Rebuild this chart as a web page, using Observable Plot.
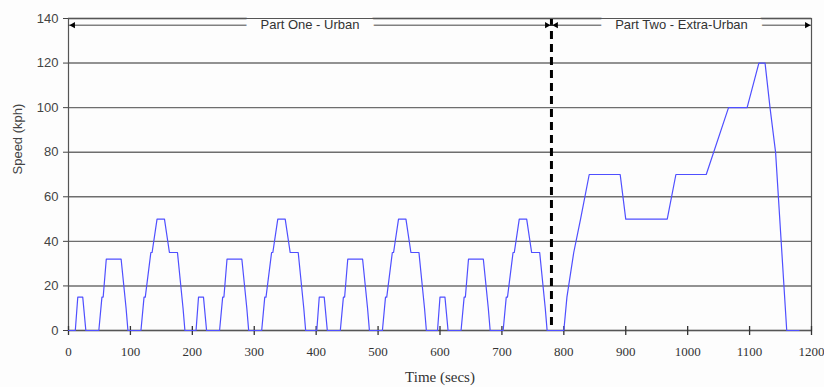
<!DOCTYPE html>
<html>
<head>
<meta charset="utf-8">
<script src="https://cdn.jsdelivr.net/npm/d3@7"></script>
<script src="https://cdn.jsdelivr.net/npm/@observablehq/plot@0.6"></script>
<style>
  html, body { margin: 0; padding: 0; background: #fdfdfd; }
  #chart { width: 824px; height: 387px; }
</style>
</head>
<body>
<div id="chart"></div>
<script>
// Time (s) and speed (kph)
const timeSecs = [
  0, 11, 15, 23, 28, 49, 54, 56, 61, 85, 93, 96, 117, 122, 124, 133, 135, 143, 155, 163, 176, 185, 188,
  206, 210, 218, 223, 244, 249, 251, 256, 280, 288, 291, 312, 317, 319, 328, 330, 338, 350, 358, 371, 380, 383,
  401, 405, 413, 418, 439, 444, 446, 451, 475, 483, 486, 507, 512, 514, 523, 525, 533, 545, 553, 566, 575, 578,
  596, 600, 608, 613, 634, 639, 641, 646, 670, 678, 681, 702, 707, 709, 718, 720, 728, 740, 748, 761, 770, 773,
  800, 805, 816, 827, 841, 891, 900, 967, 981, 1030, 1066, 1096, 1115, 1125, 1133, 1142, 1160, 1180
];
const speedKph = [
  0, 0, 15, 15, 0, 0, 15, 15, 32, 32, 10, 0, 0, 15, 15, 35, 35, 50, 50, 35, 35, 10, 0,
  0, 15, 15, 0, 0, 15, 15, 32, 32, 10, 0, 0, 15, 15, 35, 35, 50, 50, 35, 35, 10, 0,
  0, 15, 15, 0, 0, 15, 15, 32, 32, 10, 0, 0, 15, 15, 35, 35, 50, 50, 35, 35, 10, 0,
  0, 15, 15, 0, 0, 15, 15, 32, 32, 10, 0, 0, 15, 15, 35, 35, 50, 50, 35, 35, 10, 0,
  0, 15, 35, 50, 70, 70, 50, 50, 70, 70, 100, 100, 120, 120, 100, 80, 0, 0
];
const xTicks = [0, 100, 200, 300, 400, 500, 600, 700, 800, 900, 1000, 1100, 1200];
const yTicks = [0, 20, 40, 60, 80, 100, 120, 140];
const sectionLabels = ["Part One - Urban", "Part Two - Extra-Urban"];
const sectionStart = [0, 780];
const sectionEnd = [780, 1200];
const boundary = [780];
const headerLevel = 137;
const xLabel = "Time (secs)";
const yLabel = "Speed (kph)";

const data = timeSecs.map((t, i) => ({t, v: speedKph[i]}));
const sections = sectionLabels.map((label, i) => ({label, start: sectionStart[i], end: sectionEnd[i], mid: (sectionStart[i] + sectionEnd[i]) / 2}));
const sans = "Liberation Sans, Arial, sans-serif";
const serif = "Liberation Serif, Times New Roman, serif";

const chart = Plot.plot({
  width: 824,
  height: 387,
  marginLeft: 68,
  marginRight: 13,
  marginTop: 18,
  marginBottom: 57,
  style: {background: "#fdfdfd", color: "#333"},
  x: {domain: [0, 1200]},
  y: {domain: [0, 140]},
  marks: [
    Plot.gridY(yTicks, {stroke: "#6e6e6e", strokeOpacity: 1, strokeWidth: 1.4}),
    Plot.frame({stroke: "#555", strokeWidth: 1.2}),
    Plot.ruleX(xTicks, {x: d => d, y1: 0, y2: 0, insetTop: -4, insetBottom: -5, stroke: "#333", strokeWidth: 1.3}),
    Plot.line(data, {x: "t", y: "v", stroke: "#4f4fff", strokeWidth: 1.2}),
    Plot.ruleX(boundary, {stroke: "#000", strokeWidth: 3, strokeDasharray: "8,5"}),
    Plot.ruleY(sections, {y: () => headerLevel, x1: "start", x2: "end", stroke: "#444", strokeWidth: 1}),
    Plot.text(sections, {x: "mid", y: () => headerLevel, text: "label", fontSize: 13, fontFamily: sans, fill: "#333", stroke: "#fdfdfd", strokeWidth: 30}),
    Plot.dot(sections, {x: "start", y: () => headerLevel, symbol: "triangle2", rotate: -90, r: 3, fill: "#000", dx: 4.6}),
    Plot.dot(sections, {x: "end", y: () => headerLevel, symbol: "triangle2", rotate: 90, r: 3, fill: "#000", dx: -4.6}),
    Plot.ruleY([140], {stroke: "#555", strokeWidth: 1.2}),
    Plot.axisY(yTicks, {tickSize: 5, tickPadding: 5, label: null, fontSize: 13, fontFamily: sans, stroke: "#444", fill: "#444"}),
    Plot.axisX(xTicks, {tickSize: 0, tickPadding: 16, label: null, tickFormat: d => String(d), fontSize: 13, fontFamily: serif, fill: "#333"}),
    Plot.text([yLabel], {text: d => d, frameAnchor: "left", rotate: -90, dx: -51, fontSize: 13, fontFamily: sans, fill: "#444"}),
    Plot.text([xLabel], {text: d => d, frameAnchor: "bottom", dy: 51, fontSize: 15, fontFamily: serif, fill: "#333"})
  ]
});
document.getElementById("chart").appendChild(chart);
</script>
</body>
</html>
